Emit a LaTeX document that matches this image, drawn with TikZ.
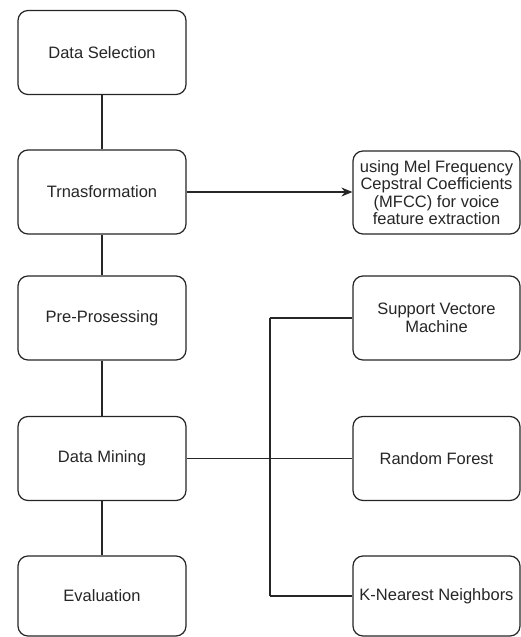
\documentclass[tikz,border=0pt]{standalone}
\usepackage{fontspec}
\setmainfont{Liberation Sans}
\usetikzlibrary{arrows.meta}
\begin{document}
\begin{tikzpicture}[x=1pt,y=-1pt,
  box/.style={draw=black!85, line width=1.2pt, rounded corners=10pt, fill=white,
    minimum width=168pt, minimum height=84pt, inner sep=1pt, align=center,
    font=\fontsize{16.5}{17.5}\selectfont, text=black!85},
  conn/.style={draw=black!85, line width=1.2pt}]
\useasboundingbox (0,0) rectangle (521,637);
\node[box] (ds) at (102,52.5) {Data Selection};
\node[box] (tr) at (102,192) {Trnasformation};
\node[box] (pp) at (102,318) {Pre-Prosessing};
\node[box] (dm) at (102,458.5) {Data Mining};
\node[box, minimum height=80pt] (ev) at (102,596) {Evaluation};
\node[box, minimum width=167pt, minimum height=83pt] (mf) at (436.5,192.5) {using Mel Frequency\\Cepstral Coefficients\\(MFCC) for voice\\feature extraction};
\node[box, minimum width=167pt] (svm) at (436.5,318) {Support Vectore\\Machine};
\node[box, minimum width=167pt] (rf) at (436.5,458.5) {Random Forest};
\node[box, minimum width=167pt, minimum height=80pt] (knn) at (436.5,596) {K-Nearest Neighbors};
\coordinate (br) at (270,458.5);
\draw[conn] (ds) -- (tr);
\draw[conn] (tr) -- (pp);
\draw[conn] (pp) -- (dm);
\draw[conn] (dm) -- (ev);
\draw[conn, -{Stealth[length=11pt,width=9pt]}] (tr.east) -- (mf.west |- tr.east);
\draw[conn] (dm.east) -- (rf.west);
\draw[conn] (br |- svm.west) -- (svm.west);
\draw[conn] (br |- knn.west) -- (knn.west);
\draw[conn] (br |- svm.west) -- (br |- knn.west);
\end{tikzpicture}
\end{document}
